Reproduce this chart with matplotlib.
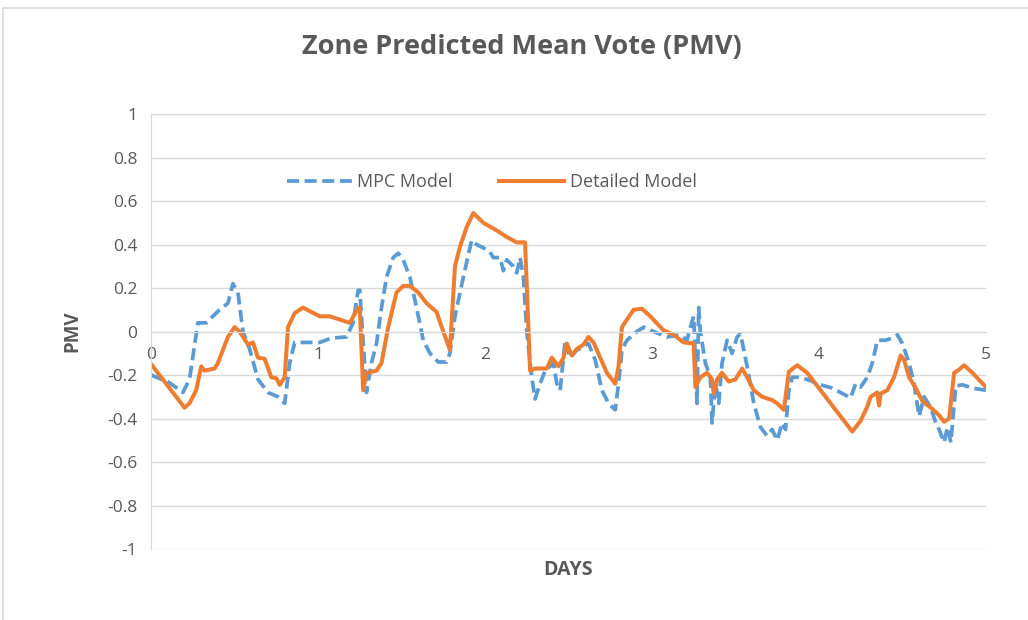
import matplotlib
matplotlib.use("Agg")
import matplotlib.pyplot as plt
from matplotlib.patches import Rectangle

# MPC Model (blue dashed)
mpc_days = [0.0, 0.11, 0.19, 0.23, 0.28, 0.33, 0.41, 0.46, 0.49, 0.52, 0.55, 0.59, 0.64, 0.70,
            0.76, 0.80, 0.83, 0.86, 0.93, 1.01, 1.08, 1.17, 1.21, 1.24, 1.25, 1.27, 1.29, 1.32,
            1.35, 1.38, 1.41, 1.45, 1.48, 1.51, 1.55, 1.59, 1.63, 1.67, 1.72, 1.77, 1.79, 1.82,
            1.87, 1.92, 1.95, 1.99, 2.03, 2.05, 2.09, 2.11, 2.13, 2.17, 2.19, 2.21, 2.23, 2.25,
            2.28, 2.30, 2.33, 2.36, 2.39, 2.41, 2.43, 2.45, 2.48, 2.51, 2.55, 2.59, 2.62, 2.66,
            2.70, 2.74, 2.78, 2.80, 2.82, 2.85, 2.91, 2.95, 3.01, 3.09, 3.17, 3.21, 3.23, 3.25,
            3.27, 3.28, 3.29, 3.32, 3.35, 3.36, 3.38, 3.40, 3.42, 3.45, 3.48, 3.51, 3.53, 3.57,
            3.61, 3.65, 3.69, 3.72, 3.75, 3.78, 3.80, 3.82, 3.84, 3.87, 3.93, 4.01, 4.08, 4.19,
            4.22, 4.25, 4.29, 4.32, 4.35, 4.40, 4.44, 4.47, 4.50, 4.54, 4.57, 4.60, 4.63, 4.67,
            4.70, 4.72, 4.75, 4.77, 4.79, 4.82, 4.86, 4.92, 5.0]
mpc_pmv = [-0.20, -0.235, -0.28, -0.22, 0.04, 0.04, 0.10, 0.13, 0.22, 0.18, 0.0, -0.08, -0.22, -0.28,
           -0.30, -0.33, -0.145, -0.05, -0.05, -0.05, -0.03, -0.025, 0.04, 0.19, 0.19, -0.05, -0.28, -0.145,
           -0.055, 0.11, 0.25, 0.34, 0.36, 0.33, 0.25, 0.11, -0.04, -0.10, -0.14, -0.14, -0.10, 0.07,
           0.25, 0.42, 0.40, 0.385, 0.365, 0.34, 0.34, 0.28, 0.33, 0.30, 0.27, 0.34, 0.25, 0.0,
           -0.21, -0.31, -0.24, -0.18, -0.16, -0.145, -0.24, -0.27, -0.04, -0.12, -0.085, -0.07, -0.055, -0.13,
           -0.27, -0.33, -0.36, -0.24, -0.085, -0.04, 0.0, 0.02, 0.0, -0.025, -0.015, -0.04, 0.02, 0.07,
           -0.33, 0.11, 0.0, -0.145, -0.21, -0.42, -0.24, -0.33, -0.145, -0.04, -0.10, -0.025, -0.01, -0.16,
           -0.33, -0.44, -0.48, -0.45, -0.50, -0.42, -0.45, -0.27, -0.21, -0.21, -0.22, -0.245, -0.26, -0.305,
           -0.24, -0.255, -0.21, -0.145, -0.04, -0.04, -0.03, -0.015, -0.055, -0.145, -0.24, -0.39, -0.30, -0.35,
           -0.42, -0.45, -0.51, -0.44, -0.51, -0.25, -0.245, -0.26, -0.27]

# Detailed Model (orange solid)
det_days = [0.0, 0.09, 0.20, 0.23, 0.27, 0.30, 0.32, 0.38, 0.40, 0.46, 0.50, 0.53, 0.58, 0.61,
            0.64, 0.68, 0.72, 0.75, 0.77, 0.80, 0.82, 0.86, 0.91, 1.01, 1.07, 1.13, 1.19, 1.24,
            1.25, 1.27, 1.29, 1.35, 1.38, 1.42, 1.47, 1.51, 1.55, 1.60, 1.65, 1.71, 1.75, 1.79,
            1.82, 1.85, 1.89, 1.93, 1.95, 1.99, 2.07, 2.13, 2.19, 2.24, 2.27, 2.30, 2.37, 2.40,
            2.44, 2.47, 2.49, 2.52, 2.55, 2.59, 2.62, 2.65, 2.69, 2.73, 2.78, 2.80, 2.82, 2.85,
            2.89, 2.94, 2.99, 3.07, 3.13, 3.19, 3.25, 3.26, 3.29, 3.33, 3.36, 3.37, 3.39, 3.42,
            3.46, 3.50, 3.54, 3.57, 3.61, 3.66, 3.72, 3.75, 3.79, 3.82, 3.87, 3.93, 4.01, 4.08,
            4.14, 4.20, 4.25, 4.29, 4.31, 4.35, 4.36, 4.37, 4.41, 4.45, 4.49, 4.51, 4.54, 4.58,
            4.62, 4.67, 4.72, 4.75, 4.78, 4.81, 4.84, 4.87, 4.92, 5.0]
det_pmv = [-0.15, -0.24, -0.35, -0.33, -0.27, -0.16, -0.18, -0.17, -0.145, -0.025, 0.02, 0.0, -0.06, -0.05,
           -0.12, -0.125, -0.21, -0.215, -0.245, -0.21, 0.02, 0.085, 0.11, 0.07, 0.07, 0.055, 0.04, 0.11,
           0.11, -0.27, -0.19, -0.18, -0.145, 0.02, 0.18, 0.21, 0.21, 0.18, 0.13, 0.09, 0.0, -0.085,
           0.30, 0.39, 0.48, 0.545, 0.53, 0.50, 0.465, 0.435, 0.41, 0.41, -0.18, -0.17, -0.17, -0.12,
           -0.16, -0.12, -0.055, -0.11, -0.08, -0.06, -0.025, -0.05, -0.12, -0.19, -0.24, -0.16, 0.02, 0.055,
           0.10, 0.105, 0.07, 0.005, -0.015, -0.05, -0.055, -0.255, -0.21, -0.19, -0.22, -0.285, -0.22, -0.19,
           -0.23, -0.22, -0.17, -0.21, -0.27, -0.30, -0.315, -0.33, -0.36, -0.185, -0.155, -0.19, -0.27, -0.34,
           -0.40, -0.46, -0.41, -0.345, -0.30, -0.28, -0.34, -0.285, -0.27, -0.21, -0.11, -0.13, -0.21, -0.26,
           -0.32, -0.35, -0.385, -0.415, -0.40, -0.19, -0.175, -0.155, -0.19, -0.255]

x_ticks = [0, 1, 2, 3, 4, 5]
y_ticks = [-1, -0.8, -0.6, -0.4, -0.2, 0, 0.2, 0.4, 0.6, 0.8, 1]

plt.rcParams["font.family"] = ["Open Sans", "DejaVu Sans"]
txt = "#595959"
grid = "#d9d9d9"

fig = plt.figure(figsize=(10.28, 6.2), dpi=100)
fig.patches.append(Rectangle((0.003, -0.01), 1.0, 0.997, transform=fig.transFigure,
                             fill=False, edgecolor=grid, lw=1.2))
ax = fig.add_axes([0.147, 0.1145, 0.812, 0.7015])

ax.plot(mpc_days, mpc_pmv, color="#5B9BD5", lw=2.7, dashes=(3.2, 1.5), label="MPC Model")
ax.plot(det_days, det_pmv, color="#ED7D31", lw=2.9, label="Detailed Model")

ax.set_xlim(0, 5)
ax.set_ylim(-1, 1)
ax.set_yticks(y_ticks)
ax.set_yticklabels([f"{v:g}" for v in y_ticks])
ax.set_xticks(x_ticks)
ax.yaxis.grid(True, color=grid, lw=1)
ax.set_axisbelow(True)

for s in ["top", "right"]:
    ax.spines[s].set_visible(False)
ax.spines["left"].set_color(grid)
ax.spines["bottom"].set_position(("data", 0))
ax.spines["bottom"].set_color(grid)
ax.tick_params(axis="both", length=0, labelsize=12.5, colors=txt)
ax.tick_params(axis="y", pad=10)
ax.tick_params(axis="x", pad=11)

ax.set_ylabel("PMV", fontsize=13.5, fontweight="bold", color=txt, labelpad=18)
fig.text(0.553, 0.08, "DAYS", ha="center", va="center", fontsize=14,
         fontweight="bold", color=txt)
fig.text(0.508, 0.924, "Zone Predicted Mean Vote (PMV)", ha="center", va="center",
         fontsize=19.5, fontweight="bold", color=txt)

ax.legend(loc="center", bbox_to_anchor=(0.408, 0.844), ncol=2, frameon=False,
          fontsize=13, labelcolor=txt, handlelength=3.6, columnspacing=2.6,
          handletextpad=0.3)

fig.savefig("out.png", dpi=100)
